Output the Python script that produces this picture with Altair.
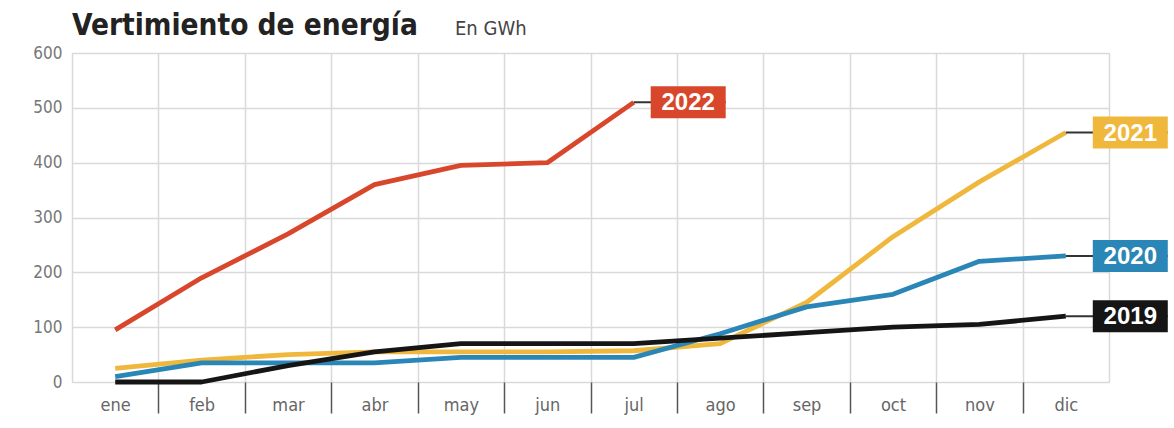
import altair as alt
import pandas as pd

months = ["ene", "feb", "mar", "abr", "may", "jun", "jul", "ago", "sep", "oct", "nov", "dic"]
years = ["2021", "2020", "2019", "2022"]  # drawing order
v2019 = [0, 0, 30, 55, 70, 70, 70, 80, 90, 100, 105, 120]
v2020 = [10, 35, 35, 35, 45, 45, 45, 88, 137, 160, 220, 230]
v2021 = [25, 40, 50, 55, 55, 55, 57, 70, 145, 265, 365, 455]
v2022 = [95, 190, 270, 360, 395, 400, 510]
colors = {"2019": "#151515", "2020": "#2b86b8", "2021": "#efb83c", "2022": "#d8472c"}
series = {"2019": v2019, "2020": v2020, "2021": v2021, "2022": v2022}

W, H = 1037, 329
px_x = W / 12.0
px_y = H / 600.0

rows = []
for y in years:
    for i, v in enumerate(series[y]):
        rows.append({"year": y, "mes": months[i], "x": i + 0.5, "value": v})
df = pd.DataFrame(rows)

lab_rows = []
for y in years:
    vals = series[y]
    last = len(vals) - 1
    gap = 17 if y == "2022" else 27
    x0 = last + 0.5
    bx = x0 + gap / px_x
    lab_rows.append({
        "year": y, "x0": x0, "bx": bx, "bx2": bx + 75 / px_x,
        "bxc": bx + 37.5 / px_x, "value": vals[-1],
        "by": vals[-1] - 16 / px_y, "by2": vals[-1] + 16 / px_y,
    })
lab = pd.DataFrame(lab_rows)

FONT = "DejaVu Sans Condensed, Roboto, sans-serif"
xscale = alt.Scale(domain=[0, 12], nice=False, zero=False)
yscale = alt.Scale(domain=[0, 600], nice=False)
cscale = alt.Scale(domain=list(colors.keys()), range=list(colors.values()))

month_expr = "datum.value < 12 ? " + str(months) + "[datum.value] : ''"

xaxis = alt.Axis(
    values=list(range(13)), title=None, grid=True, gridColor="#d9d9d9", gridWidth=1.5,
    domain=False, tickColor="#555", tickWidth=1.5, tickSize=31,
    tickOpacity={"condition": {"test": "datum.value == 0 || datum.value == 12", "value": 0}, "value": 1},
    labelExpr=month_expr, labelOffset=px_x / 2, labelPadding=-17,
    labelFont=FONT, labelFontSize=18, labelColor="#666", labelAlign="center",
)
yaxis = alt.Axis(
    values=[0, 100, 200, 300, 400, 500, 600], title=None, grid=True, gridColor="#d9d9d9",
    gridWidth=1.5, domain=False, ticks=False, labelPadding=10,
    labelFont=FONT, labelFontSize=17, labelColor="#777",
)

base = alt.Chart(df)
layers = []
for y in years:
    layers.append(
        base.transform_filter(alt.datum.year == y).mark_line(strokeWidth=4.8, strokeJoin="round").encode(
            x=alt.X("x:Q", scale=xscale, axis=xaxis),
            y=alt.Y("value:Q", scale=yscale, axis=yaxis),
            color=alt.Color("year:N", scale=cscale, legend=None),
        )
    )

lb = alt.Chart(lab)
conn = lb.mark_rule(color="#333", strokeWidth=2).encode(
    x=alt.X("x0:Q", scale=xscale, axis=xaxis), x2="bx2:Q",
    y=alt.Y("value:Q", scale=yscale, axis=yaxis)
)
boxes = lb.mark_rect().encode(
    x=alt.X("bx:Q", scale=xscale, axis=xaxis), x2="bx2:Q",
    y=alt.Y("by:Q", scale=yscale, axis=yaxis), y2="by2:Q",
    color=alt.Color("year:N", scale=cscale, legend=None),
)
texts = lb.mark_text(font="Liberation Sans", fontSize=24, fontWeight="bold", color="white",
                     align="center", baseline="middle", dy=1).encode(
    x=alt.X("bxc:Q", scale=xscale, axis=xaxis), y=alt.Y("value:Q", scale=yscale, axis=yaxis),
    text="year:N"
)
titles = pd.DataFrame({"t": ["Vertimiento de energía"]})
title = alt.Chart(titles).mark_text(
    font=FONT, fontSize=29.5, fontWeight="bold", color="#222", align="left", baseline="alphabetic"
).encode(x=alt.value(0), y=alt.value(-18), text="t:N")
unit = alt.Chart(pd.DataFrame({"t": ["En GWh"]})).mark_text(
    font=FONT, fontSize=20, color="#444", align="left", baseline="alphabetic"
).encode(x=alt.value(383), y=alt.value(-18), text="t:N")

chart = alt.layer(*layers, conn, boxes, texts, title, unit).properties(
    width=W, height=H,
    autosize=alt.AutoSizeParams(type="none"),
    padding={"left": 72, "top": 53, "right": 65, "bottom": 46},
).configure_view(stroke=None).configure(background="white")

chart.save("out.html", embed_options={"renderer": "svg", "actions": False})
